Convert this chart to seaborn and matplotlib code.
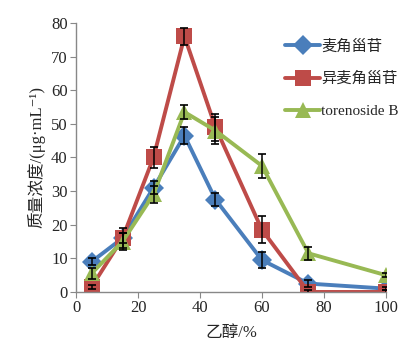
import matplotlib
matplotlib.use("Agg")
import matplotlib.pyplot as plt
import seaborn as sns
import pandas as pd

ethanol = [5, 15, 25, 35, 45, 60, 75, 100]
series_names = ["麦角甾苷", "异麦角甾苷", "torenoside B"]
s1 = [9, 16, 31, 46.5, 27.5, 9.5, 2.5, 1]
s2 = [1.5, 16, 40, 76, 49, 18.5, 0, 0]
s3 = [5.5, 15, 29, 53.5, 48, 37.5, 11.5, 5]
e1 = [1, 1.5, 2, 2.5, 2, 2.5, 1, 0.5]
e2 = [0.5, 3, 3, 2.5, 4, 4, 0.5, 0.5]
e3 = [1.5, 2.5, 2.5, 2, 4, 3.5, 2, 0.5]
xticks = [0, 20, 40, 60, 80, 100]
yticks = [0, 10, 20, 30, 40, 50, 60, 70, 80]

sns.set_style("white")
plt.rcParams['font.family'] = ['Liberation Serif', 'Noto Sans CJK SC', 'DejaVu Serif']

colors = ["#4A7EBB", "#BE4B48", "#98B954"]
markers = ["D", "s", "^"]
msizes = [10, 12, 12]

fig = plt.figure(figsize=(4.18, 3.48), dpi=100)
ax = fig.add_axes([0.182, 0.161, 0.741, 0.773])

for name, vals, c, m, ms in zip(series_names, [s1, s2, s3], colors, markers, msizes):
    d = pd.DataFrame({"x": ethanol, "y": vals})
    sns.lineplot(data=d, x="x", y="y", color=c, marker=m, markersize=ms,
                 markeredgewidth=0, linewidth=2.8, ax=ax, zorder=2, label=name)

for vals, errs in zip([s1, s2, s3], [e1, e2, e3]):
    ax.errorbar(ethanol, vals, yerr=errs, fmt='none', ecolor='black',
                elinewidth=1.1, capsize=3, capthick=1.2, zorder=3)

ax.set_xlim(0, 100)
ax.set_ylim(0, 80)
ax.set_xticks(xticks)
ax.set_yticks(yticks)
ax.tick_params(axis='both', labelsize=12, direction='out', length=4,
               color='#888888', left=True, bottom=True, pad=2)
for sp in ['top', 'right']:
    ax.spines[sp].set_visible(False)
for sp in ['left', 'bottom']:
    ax.spines[sp].set_color('#888888')
    ax.spines[sp].set_linewidth(1)

ax.set_xlabel("乙醇/%", fontsize=12, labelpad=6)
ax.set_ylabel("质量浓度/(μg·mL⁻¹)", fontsize=12, labelpad=4)

handles, labels = ax.get_legend_handles_labels()
ax.legend(handles[:3], labels[:3], loc='upper left', bbox_to_anchor=(0.63, 0.99),
          frameon=False, fontsize=11, handlelength=2.3, handletextpad=0.05,
          labelspacing=1.2)

fig.savefig("out.png", dpi=100)
